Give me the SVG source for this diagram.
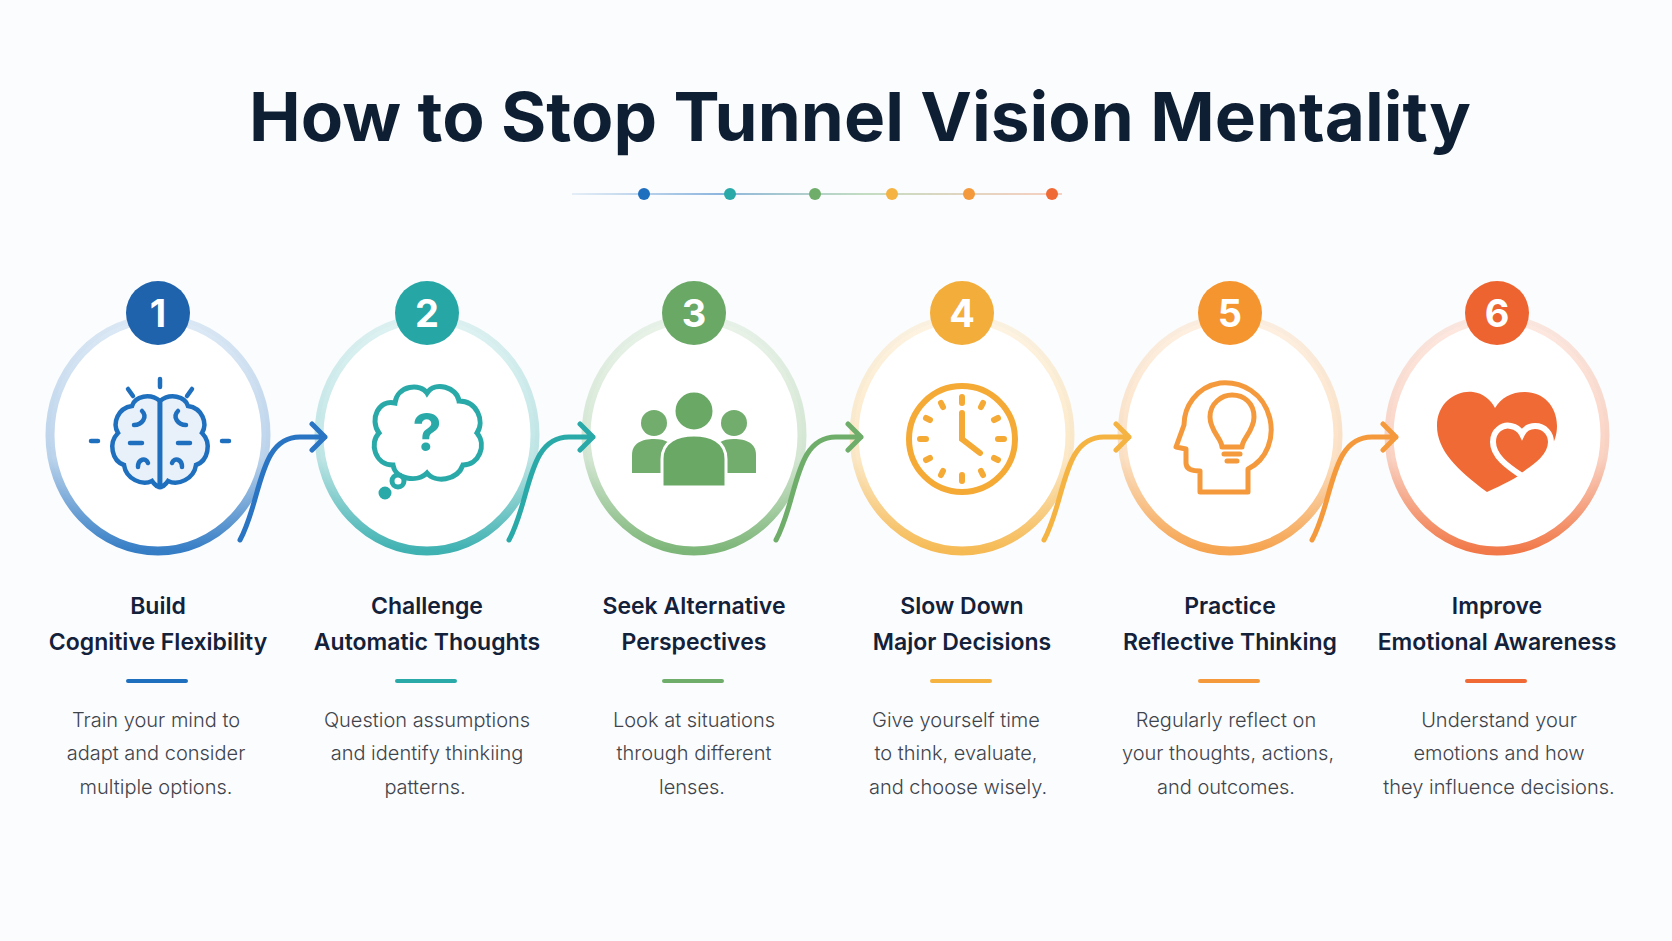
<svg xmlns="http://www.w3.org/2000/svg" width="1672" height="941" viewBox="0 0 1672 941">
<defs>
<style>
.t{font-family:Inter,"Liberation Sans",sans-serif;font-weight:700;fill:#0f1f33}
.h{font-family:Inter,"Liberation Sans",sans-serif;font-weight:600;font-size:23px;fill:#13213a;text-anchor:middle}
.d{font-family:Inter,"Liberation Sans",sans-serif;font-weight:300;font-size:20px;fill:#3f444c;text-anchor:middle}
.n{font-family:Inter,"Liberation Sans",sans-serif;font-weight:700;font-size:38px;fill:#fff;text-anchor:middle}
.ring{fill:#fff;stroke-width:9}
.con{fill:none;stroke-width:5;stroke-linecap:round;stroke-linejoin:round}
</style>
<linearGradient id="g1" x1="0" y1="0" x2="0" y2="1"><stop offset="0" stop-color="#1f6fbf" stop-opacity="0.15"/><stop offset="0.6" stop-color="#1f6fbf" stop-opacity="0.3"/><stop offset="1" stop-color="#1f6fbf" stop-opacity="0.9"/></linearGradient>
<linearGradient id="g2" x1="0" y1="0" x2="0" y2="1"><stop offset="0" stop-color="#2aa9a9" stop-opacity="0.15"/><stop offset="0.6" stop-color="#2aa9a9" stop-opacity="0.3"/><stop offset="1" stop-color="#2aa9a9" stop-opacity="0.9"/></linearGradient>
<linearGradient id="g3" x1="0" y1="0" x2="0" y2="1"><stop offset="0" stop-color="#6fae6a" stop-opacity="0.15"/><stop offset="0.6" stop-color="#6fae6a" stop-opacity="0.3"/><stop offset="1" stop-color="#6fae6a" stop-opacity="0.9"/></linearGradient>
<linearGradient id="g4" x1="0" y1="0" x2="0" y2="1"><stop offset="0" stop-color="#f5b342" stop-opacity="0.15"/><stop offset="0.6" stop-color="#f5b342" stop-opacity="0.3"/><stop offset="1" stop-color="#f5b342" stop-opacity="0.9"/></linearGradient>
<linearGradient id="g5" x1="0" y1="0" x2="0" y2="1"><stop offset="0" stop-color="#f59a3c" stop-opacity="0.15"/><stop offset="0.6" stop-color="#f59a3c" stop-opacity="0.3"/><stop offset="1" stop-color="#f59a3c" stop-opacity="0.9"/></linearGradient>
<linearGradient id="g6" x1="0" y1="0" x2="0" y2="1"><stop offset="0" stop-color="#f06a35" stop-opacity="0.15"/><stop offset="0.6" stop-color="#f06a35" stop-opacity="0.3"/><stop offset="1" stop-color="#f06a35" stop-opacity="0.9"/></linearGradient>
<linearGradient id="dl" gradientUnits="userSpaceOnUse" x1="572" y1="0" x2="1062" y2="0"><stop offset="0" stop-color="#1f6fbf" stop-opacity="0.1"/><stop offset="0.3" stop-color="#1f6fbf" stop-opacity="0.5"/><stop offset="0.6" stop-color="#6fae6a" stop-opacity="0.4"/><stop offset="1" stop-color="#f06a35" stop-opacity="0.3"/></linearGradient>
</defs>
<rect width="1672" height="941" fill="#fbfcfd"/>
<g id="title">
<text class="t" x="860" y="141" font-size="68" text-anchor="middle" textLength="1222" lengthAdjust="spacingAndGlyphs">How to Stop Tunnel Vision Mentality</text>
<line x1="572" y1="194" x2="1062" y2="194" stroke="url(#dl)" stroke-width="2"/>
<circle cx="644" cy="194" r="6" fill="#1f6fbf"/><circle cx="730" cy="194" r="6" fill="#2aa9a9"/><circle cx="815" cy="194" r="6" fill="#6fae6a"/><circle cx="892" cy="194" r="6" fill="#f5b342"/><circle cx="969" cy="194" r="6" fill="#f59a3c"/><circle cx="1052" cy="194" r="6" fill="#f06a35"/>
</g>
<g id="node1">
<ellipse class="ring" cx="158" cy="435" rx="108" ry="116" stroke="url(#g1)"/>
<circle cx="158" cy="313" r="32" fill="#1f63ad"/><text class="n" x="158" y="327">1</text>
<g transform="translate(160,441)" fill="none" stroke="#1f6fbf" stroke-width="4.5" stroke-linecap="round">
<path d="M0,-40 C-10,-48 -25,-45 -28,-35 C-42,-33 -48,-18 -42,-8 C-52,2 -48,20 -36,24 C-34,38 -18,45 -8,40 C-4,46 0,46 0,46 Z" fill="#e8f0fa"/>
<path d="M0,-40 C10,-48 25,-45 28,-35 C42,-33 48,-18 42,-8 C52,2 48,20 36,24 C34,38 18,45 8,40 C4,46 0,46 0,46 Z" fill="#e8f0fa"/>
<path d="M0,-40 V46 M-18,-30 c6,6 0,14 -8,14 M-30,2 h12 M-22,26 c0,-8 8,-10 10,-4 M18,-30 c-6,6 0,14 8,14 M30,2 h-12 M22,26 c0,-8 -8,-10 -10,-4"/>
<path d="M0,-62 V-54 M-32,-52 l5,7 M32,-52 l-5,7 M-62,0 h-7 M62,0 h7"/>
</g>
</g>
<g id="node2">
<ellipse class="ring" cx="427" cy="435" rx="108" ry="116" stroke="url(#g2)"/>
<circle cx="427" cy="313" r="32" fill="#27a6a6"/><text class="n" x="427" y="327">2</text>
<g transform="translate(427,437)" fill="none" stroke="#2aa9a9" stroke-width="5">
<path d="M-32,-34 C-30,-52 -6,-54 0,-44 C8,-56 30,-50 32,-36 C50,-36 58,-16 50,-4 C60,8 52,28 36,28 C30,44 8,46 0,36 C-10,46 -32,42 -34,28 C-52,28 -58,6 -48,-4 C-58,-18 -48,-38 -32,-34 Z"/>
<circle cx="-29" cy="44" r="6"/><circle cx="-42" cy="56" r="4" fill="#2aa9a9"/>
<text x="0" y="14" font-family="Inter,'Liberation Sans',sans-serif" font-weight="700" font-size="52" fill="#2aa9a9" stroke="none" text-anchor="middle">?</text>
</g>
</g>
<g id="node3">
<ellipse class="ring" cx="694" cy="435" rx="108" ry="116" stroke="url(#g3)"/>
<circle cx="694" cy="313" r="32" fill="#6aa866"/><text class="n" x="694" y="327">3</text>
<g transform="translate(694,437)" fill="#72ad6e">
<circle cx="-40" cy="-14" r="13"/><circle cx="40" cy="-14" r="13"/>
<path d="M-62,36 V18 C-62,6 -52,2 -40,2 C-28,2 -20,6 -20,18 V36 Z"/>
<path d="M62,36 V18 C62,6 52,2 40,2 C28,2 20,6 20,18 V36 Z"/>
<circle cx="0" cy="-26" r="20" fill="#6aa866" stroke="#fff" stroke-width="3"/>
<path d="M-32,50 V22 C-32,4 -16,-2 0,-2 C16,-2 32,4 32,22 V50 Z" fill="#6aa866" stroke="#fff" stroke-width="3"/>
</g>
</g>
<g id="node4">
<ellipse class="ring" cx="962" cy="435" rx="108" ry="116" stroke="url(#g4)"/>
<circle cx="962" cy="313" r="32" fill="#f3ad3a"/><text class="n" x="962" y="327">4</text>
<g transform="translate(962,439)" fill="none" stroke="#f5aa35" stroke-width="6" stroke-linecap="round">
<circle r="53"/>
<path d="M0,-42 V-36 M0,42 V36 M-42,0 H-36 M42,0 H36 M21,-36 l-2,4 M36,-21 l-4,2 M36,21 l-4,-2 M21,36 l-2,-4 M-21,36 l2,-4 M-36,21 l4,-2 M-36,-21 l4,2 M-21,-36 l2,4"/>
<path d="M0,-26 V0 L18,14"/>
</g>
</g>
<g id="node5">
<ellipse class="ring" cx="1230" cy="435" rx="108" ry="116" stroke="url(#g5)"/>
<circle cx="1230" cy="313" r="32" fill="#f5952f"/><text class="n" x="1230" y="327">5</text>
<g transform="translate(1230,437)" fill="none" stroke="#f59a3c" stroke-width="5" stroke-linejoin="round" stroke-linecap="round">
<path d="M18,55 V32 C38,22 44,0 40,-18 C34,-44 12,-56 -10,-54 C-34,-50 -46,-30 -46,-12 L-54,10 L-44,12 V26 C-44,32 -38,34 -30,34 V55 Z"/>
<path d="M-8,10 C-8,2 -20,-6 -20,-20 C-20,-34 -8,-42 2,-42 C14,-42 24,-34 24,-20 C24,-6 12,2 12,10 Z"/>
<path d="M-6,17 H10 M-3,24 H7"/>
</g>
</g>
<g id="node6">
<ellipse class="ring" cx="1497" cy="435" rx="108" ry="116" stroke="url(#g6)"/>
<circle cx="1497" cy="313" r="32" fill="#ed6430"/><text class="n" x="1497" y="327">6</text>
<g transform="translate(1497,440)">
<path d="M-10,52 C-40,30 -60,10 -60,-14 C-60,-38 -40,-50 -24,-48 C-14,-47 -6,-40 -2,-32 C4,-42 14,-48 28,-48 C46,-48 60,-34 60,-14 C60,10 40,30 -10,52 Z" fill="#f06a35"/>
<path d="M25,36 C10,26 -4,16 -4,2 C-4,-10 6,-16 14,-14 C19,-13 23,-10 25,-6 C27,-10 31,-14 38,-14 C48,-14 54,-6 54,2 C54,16 40,26 25,36 Z" fill="#f06a35" stroke="#fff" stroke-width="6"/>
</g>
</g>
<g id="connectors">
<path class="con" stroke="#2a74c4" d="M240,540 C262,500 258,437 300,437 L325,437 M312,424 L325,437 L312,450"/>
<path class="con" stroke="#2aa9a9" d="M509,540 C531,500 527,437 569,437 L593,437 M580,424 L593,437 L580,450"/>
<path class="con" stroke="#6fae6a" d="M776,540 C798,500 794,437 836,437 L861,437 M848,424 L861,437 L848,450"/>
<path class="con" stroke="#f5b342" d="M1044,540 C1066,500 1062,437 1104,437 L1129,437 M1116,424 L1129,437 L1116,450"/>
<path class="con" stroke="#f59a3c" d="M1312,540 C1334,500 1330,437 1372,437 L1396,437 M1383,424 L1396,437 L1383,450"/>
</g>
<g id="labels">
<text class="h" x="158" y="614">Build</text><text class="h" x="158" y="650">Cognitive Flexibility</text>
<text class="h" x="427" y="614">Challenge</text><text class="h" x="427" y="650">Automatic Thoughts</text>
<text class="h" x="694" y="614">Seek Alternative</text><text class="h" x="694" y="650">Perspectives</text>
<text class="h" x="962" y="614">Slow Down</text><text class="h" x="962" y="650">Major Decisions</text>
<text class="h" x="1230" y="614">Practice</text><text class="h" x="1230" y="650">Reflective Thinking</text>
<text class="h" x="1497" y="614">Improve</text><text class="h" x="1497" y="650">Emotional Awareness</text>
<rect x="126" y="679" width="62" height="4" rx="2" fill="#1f6fbf"/>
<rect x="395" y="679" width="62" height="4" rx="2" fill="#2aa9a9"/>
<rect x="662" y="679" width="62" height="4" rx="2" fill="#6fae6a"/>
<rect x="930" y="679" width="62" height="4" rx="2" fill="#f5b342"/>
<rect x="1198" y="679" width="62" height="4" rx="2" fill="#f59a3c"/>
<rect x="1465" y="679" width="62" height="4" rx="2" fill="#f06a35"/>
<text class="d" x="156" y="727">Train your mind to</text><text class="d" x="156" y="760">adapt and consider</text><text class="d" x="156" y="794">multiple options.</text>
<text class="d" x="427" y="727">Question assumptions</text><text class="d" x="427" y="760">and identify thinkiing</text><text class="d" x="425" y="794">patterns.</text>
<text class="d" x="694" y="727">Look at situations</text><text class="d" x="694" y="760">through different</text><text class="d" x="692" y="794">lenses.</text>
<text class="d" x="956" y="727">Give yourself time</text><text class="d" x="956" y="760">to think, evaluate,</text><text class="d" x="958" y="794">and choose wisely.</text>
<text class="d" x="1226" y="727">Regularly reflect on</text><text class="d" x="1228" y="760">your thoughts, actions,</text><text class="d" x="1226" y="794">and outcomes.</text>
<text class="d" x="1499" y="727">Understand your</text><text class="d" x="1499" y="760">emotions and how</text><text class="d" x="1499" y="794">they influence decisions.</text>
</g>
</svg>
